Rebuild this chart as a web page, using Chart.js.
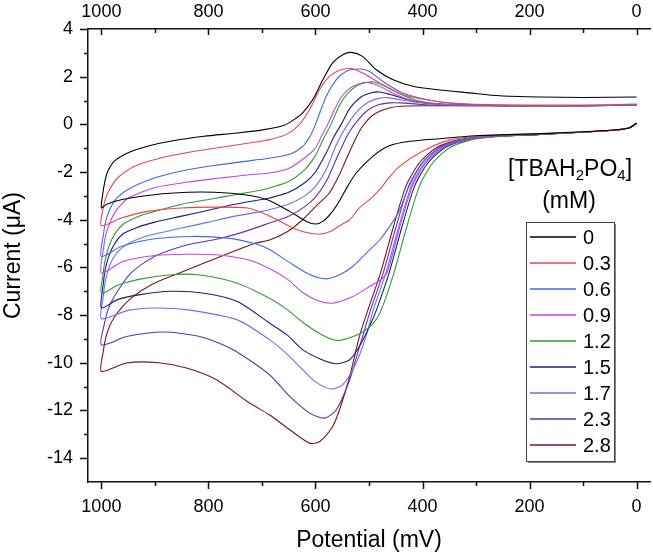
<!DOCTYPE html>
<html>
<head>
<meta charset="utf-8">
<title>CV with TBAH2PO4</title>
<script src="https://cdn.jsdelivr.net/npm/chart.js"></script>
<style>
  body { margin: 0; background: #fff; }
</style>
</head>
<body>
<canvas id="cv" width="653" height="556"></canvas>

<script>
// concentrations of TBAH2PO4 (mM), legend order
const concentrations = ['0', '0.3', '0.6', '0.9', '1.2', '1.5', '1.7', '2.3', '2.8'];

// tick labels
const xTicks = [0, 200, 400, 600, 800, 1000];
const yTicks = [-14, -12, -10, -8, -6, -4, -2, 0, 2, 4];

// each scan: [potential mV, current uA], from 0 mV out to 1000 mV and back
const c0 = [[0,0.06],[14,-0.15],[57,-0.26],[181,-0.39],[294,-0.47],[368,-0.6],[424,-0.71],[462,-0.9],[493,-1.34],[524,-2.04],[540,-2.6],[555,-3.2],[570,-3.7],[585,-4.05],[599,-4.18],[617,-4.07],[648,-3.65],[690,-3.16],[733,-2.95],[789,-2.85],[839,-2.85],[901,-2.95],[963,-3.16],[990,-3.35],[1000,-3.5],
  [998,-3.0],[994,-2.45],[988,-1.97],[976,-1.55],[951,-1.2],[914,-0.92],[864,-0.68],[808,-0.5],[746,-0.36],[696,-0.22],[660,-0.05],[640,0.2],[624,0.48],[605,1.04],[586,1.88],[568,2.58],[549,2.92],[533,3.02],[512,2.85],[487,2.3],[456,1.88],[418,1.6],[375,1.46],[312,1.32],[256,1.2],[181,1.15],[100,1.13],[0,1.15]];
const c03 = [[0,0.05],[14,-0.15],[57,-0.27],[181,-0.4],[294,-0.5],[350,-0.66],[400,-1.13],[443,-1.76],[465,-2.3],[480,-2.74],[499,-3.16],[518,-3.5],[536,-4.0],[555,-4.25],[570,-4.47],[592,-4.6],[624,-4.49],[648,-4.28],[690,-3.8],[727,-3.51],[789,-3.47],[851,-3.51],[914,-3.65],[963,-3.93],[1000,-4.25],
  [996,-3.44],[988,-2.88],[970,-2.25],[938,-1.76],[889,-1.41],[826,-1.13],[764,-0.92],[702,-0.71],[686,-0.64],[655,-0.43],[630,-0.01],[611,0.62],[592,1.46],[574,2.01],[555,2.27],[533,2.34],[512,2.15],[480,1.74],[437,1.25],[375,0.97],[312,0.85],[200,0.8],[100,0.8],[0,0.85]];
const c06 = [[0,0.04],[14,-0.15],[57,-0.27],[181,-0.4],[288,-0.53],[331,-0.67],[369,-0.99],[400,-1.62],[425,-2.6],[445,-3.7],[462,-4.3],[480,-4.85],[505,-5.4],[530,-5.95],[555,-6.31],[580,-6.48],[611,-6.3],[648,-5.8],[686,-5.25],[714,-5.0],[760,-4.78],[830,-4.7],[901,-4.8],[963,-5.12],[1000,-5.54],
  [996,-4.6],[990,-3.9],[975,-3.2],[951,-2.74],[901,-2.25],[839,-1.9],[777,-1.69],[714,-1.5],[686,-1.42],[648,-1.25],[625,-0.95],[610,-0.5],[599,0.06],[580,1.17],[561,1.88],[543,2.22],[518,2.32],[499,2.22],[474,1.8],[437,1.32],[375,0.97],[312,0.83],[200,0.8],[100,0.8],[0,0.82]];
const c09 = [[0,0.04],[14,-0.15],[57,-0.27],[181,-0.4],[282,-0.53],[325,-0.67],[363,-0.99],[394,-1.62],[419,-2.6],[444,-4.42],[466,-6.2],[480,-6.55],[499,-6.8],[530,-7.22],[568,-7.5],[595,-7.4],[624,-7.05],[652,-6.5],[686,-6.05],[723,-5.7],[780,-5.48],[839,-5.45],[900,-5.5],[960,-5.75],[1000,-6.24],
  [996,-5.2],[990,-4.5],[975,-3.7],[950,-3.1],[900,-2.65],[839,-2.42],[777,-2.25],[720,-2.1],[686,-2.04],[650,-1.85],[620,-1.4],[600,-1.0],[590,-0.55],[577,0.0],[565,0.6],[550,1.2],[530,1.6],[505,1.76],[480,1.6],[450,1.25],[420,1.0],[375,0.85],[312,0.8],[200,0.78],[100,0.78],[0,0.8]];
const c12 = [[0,0.04],[14,-0.15],[57,-0.27],[181,-0.42],[269,-0.53],[312,-0.67],[350,-0.99],[381,-1.62],[406,-2.6],[431,-4.42],[453,-6.2],[477,-7.78],[492,-8.35],[515,-8.75],[540,-8.98],[561,-9.06],[590,-8.8],[624,-8.3],[652,-7.78],[686,-7.29],[746,-6.66],[820,-6.31],[870,-6.31],[930,-6.5],[970,-6.75],[1000,-7.1],
  [997,-6.3],[992,-5.6],[980,-4.8],[960,-4.2],[930,-3.85],[900,-3.65],[850,-3.35],[800,-3.15],[750,-2.95],[700,-2.75],[686,-2.67],[650,-2.4],[620,-1.9],[600,-1.3],[585,-0.6],[571,0.0],[555,0.8],[540,1.3],[520,1.65],[500,1.78],[490,1.78],[470,1.6],[440,1.25],[410,1.0],[375,0.87],[312,0.8],[200,0.78],[100,0.78],[0,0.8]];
const c15 = [[0,0.04],[14,-0.15],[57,-0.27],[181,-0.42],[278,-0.53],[321,-0.67],[359,-0.99],[390,-1.62],[415,-2.6],[440,-4.42],[462,-6.2],[486,-7.78],[499,-8.47],[518,-9.32],[536,-9.87],[561,-10.04],[590,-9.85],[624,-9.45],[652,-8.85],[686,-8.33],[746,-7.43],[808,-7.08],[870,-7.0],[930,-7.15],[970,-7.35],[1000,-7.7],
  [997,-6.8],[992,-6.0],[980,-5.2],[960,-4.6],[930,-4.3],[900,-4.1],[850,-3.85],[800,-3.6],[750,-3.35],[700,-3.15],[686,-3.09],[650,-2.85],[620,-2.45],[600,-2.0],[580,-1.2],[565,-0.5],[552,0.0],[535,0.7],[515,1.15],[495,1.33],[480,1.36],[460,1.25],[430,1.05],[400,0.92],[350,0.83],[300,0.8],[200,0.78],[100,0.78],[0,0.8]];
const c17 = [[0,0.04],[14,-0.15],[57,-0.27],[181,-0.42],[284,-0.53],[327,-0.67],[365,-0.99],[396,-1.62],[421,-2.6],[446,-4.42],[468,-6.2],[492,-7.78],[505,-8.85],[524,-10.01],[549,-10.92],[571,-11.1],[600,-10.8],[624,-10.29],[652,-9.66],[686,-9.03],[746,-8.2],[839,-7.78],[901,-7.7],[950,-7.8],[1000,-8.15],
  [997,-7.3],[992,-6.5],[980,-5.7],[960,-5.15],[930,-4.8],[900,-4.6],[850,-4.35],[800,-4.1],[750,-3.85],[700,-3.65],[686,-3.58],[650,-3.35],[620,-3.0],[600,-2.6],[580,-1.9],[560,-0.8],[540,0.0],[520,0.6],[500,0.95],[480,1.1],[465,1.12],[440,1.02],[410,0.92],[370,0.84],[300,0.8],[200,0.78],[100,0.78],[0,0.8]];
const c23 = [[0,0.04],[14,-0.15],[57,-0.27],[181,-0.42],[289,-0.53],[332,-0.67],[370,-0.99],[401,-1.62],[426,-2.6],[451,-4.42],[473,-6.2],[497,-7.78],[508,-8.6],[520,-9.5],[536,-10.71],[561,-11.97],[583,-12.32],[611,-12.11],[648,-11.41],[686,-10.5],[754,-9.45],[816,-8.9],[885,-8.71],[953,-8.9],[1000,-9.25],
  [994,-8.33],[988,-7.8],[976,-7.22],[945,-6.24],[901,-5.54],[839,-5.05],[789,-4.84],[740,-4.55],[686,-4.14],[650,-3.85],[620,-3.45],[600,-3.05],[580,-2.4],[560,-1.4],[540,-0.45],[527,0.0],[505,0.55],[485,0.8],[462,0.9],[440,0.9],[410,0.85],[370,0.8],[300,0.78],[200,0.78],[100,0.78],[0,0.8]];
const c28 = [[0,0.04],[14,-0.15],[57,-0.27],[181,-0.42],[294,-0.53],[337,-0.67],[375,-0.99],[406,-1.62],[431,-2.6],[456,-4.42],[478,-6.2],[502,-7.78],[518,-8.9],[536,-10.57],[555,-11.97],[568,-12.67],[592,-13.3],[611,-13.37],[648,-12.81],[686,-12.18],[723,-11.69],[785,-10.71],[841,-10.22],[897,-9.99],[953,-10.01],[1000,-10.36],
  [997,-9.6],[990,-8.8],[976,-8.1],[945,-7.3],[901,-6.66],[839,-6.1],[777,-5.54],[714,-5.0],[686,-4.85],[652,-4.49],[624,-4.0],[600,-3.45],[574,-2.88],[555,-2.1],[543,-1.48],[525,-0.6],[512,-0.08],[495,0.35],[480,0.55],[462,0.69],[440,0.76],[400,0.78],[300,0.78],[200,0.78],[100,0.78],[0,0.8]];

const scans = [c0, c03, c06, c09, c12, c15, c17, c23, c28];
const colours = ['#000000', '#e8464f', '#4565e6', '#c245e2', '#2f9a34', '#1c1c78', '#6e6cf0', '#6530ad', '#7a1414'];

const FONT = '"Liberation Sans", Arial, sans-serif';

// tick marks: majors + minors, top axis ticks point inwards
const tickMarks = {
  id: 'tickMarks',
  afterDraw(chart) {
    const {ctx, chartArea: a, scales} = chart;
    const x = scales.x, y = scales.y;
    ctx.save();
    ctx.strokeStyle = '#111';
    ctx.lineWidth = 1.5;
    ctx.beginPath();
    xTicks.forEach((v, i) => {
      const px = Math.round(x.getPixelForValue(v)) + 0.5;
      ctx.moveTo(px, a.bottom); ctx.lineTo(px, a.bottom + 7);
      ctx.moveTo(px, a.top); ctx.lineTo(px, a.top + 6);
      if (i < xTicks.length - 1) {
        const pm = Math.round(x.getPixelForValue((v + xTicks[i + 1]) / 2)) + 0.5;
        ctx.moveTo(pm, a.bottom); ctx.lineTo(pm, a.bottom + 4);
        ctx.moveTo(pm, a.top); ctx.lineTo(pm, a.top + 4);
      }
    });
    yTicks.forEach((v, i) => {
      const py = Math.round(y.getPixelForValue(v)) + 0.5;
      ctx.moveTo(a.left - 8, py); ctx.lineTo(a.left, py);
      if (i < yTicks.length - 1) {
        const pm = Math.round(y.getPixelForValue((v + yTicks[i + 1]) / 2)) + 0.5;
        ctx.moveTo(a.left - 4, pm); ctx.lineTo(a.left, pm);
      }
    });
    ctx.stroke();
    ctx.restore();
  }
};

// legend box inside the plot, Origin style
const cvLegend = {
  id: 'cvLegend',
  afterDraw(chart) {
    const ctx = chart.ctx;
    ctx.save();
    ctx.fillStyle = '#000';
    ctx.textBaseline = 'middle';

    // title [TBAH2PO4] with subscripts
    const big = '23px ' + FONT, small = '15px ' + FONT;
    const parts = [['[TBAH', big, 0], ['2', small, 6], ['PO', big, 0], ['4', small, 6], [']', big, 0]];
    let w = 0;
    parts.forEach(p => { ctx.font = p[1]; w += ctx.measureText(p[0]).width; });
    let tx = 570 - w / 2;
    parts.forEach(p => {
      ctx.font = p[1];
      ctx.textAlign = 'left';
      ctx.fillText(p[0], tx, 170 + p[2]);
      tx += ctx.measureText(p[0]).width;
    });
    ctx.font = big;
    ctx.textAlign = 'center';
    ctx.fillText('(mM)', 569, 202);

    // frame with a slight shadow on the right and bottom
    ctx.fillStyle = '#888';
    ctx.fillRect(528, 461, 88, 2);
    ctx.fillRect(614, 224, 2, 239);
    ctx.strokeStyle = '#444';
    ctx.lineWidth = 1;
    ctx.strokeRect(526.5, 222.5, 88, 239);

    ctx.font = '20px ' + FONT;
    ctx.textAlign = 'left';
    chart.data.datasets.forEach((ds, i) => {
      const yy = 237 + i * 26;
      ctx.strokeStyle = colours[i];
      ctx.lineWidth = 1.4;
      ctx.beginPath();
      ctx.moveTo(530, yy); ctx.lineTo(576, yy);
      ctx.stroke();
      ctx.fillStyle = '#000';
      ctx.fillText(ds.label, 583, yy + 1);
    });
    ctx.restore();
  }
};

const plainTick = v => String(v);

new Chart(document.getElementById('cv').getContext('2d'), {
  type: 'line',
  data: {
    datasets: scans.map((s, i) => ({
      label: concentrations[i],
      data: s.map(p => ({x: p[0], y: p[1]})),
      borderColor: colours[i],
      borderWidth: 1.1,
      pointRadius: 0,
      tension: 0.25,
      fill: false
    }))
  },
  options: {
    responsive: false,
    animation: false,
    devicePixelRatio: 1,
    layout: { padding: { left: 0, right: 3, top: 0, bottom: 0 } },
    plugins: { legend: { display: false }, tooltip: { enabled: false } },
    scales: {
      x: {
        type: 'linear', position: 'bottom', reverse: true, min: -25, max: 1025,
        afterBuildTicks: s => { s.ticks = xTicks.map(v => ({value: v})); },
        afterFit: s => { s.height = 74; },
        grid: { display: false, drawTicks: false },
        border: { display: true, color: '#111', width: 1.5 },
        ticks: { color: '#000', padding: 14, maxRotation: 0, callback: plainTick, font: { family: FONT, size: 18 } },
        title: { display: true, text: 'Potential (mV)', color: '#000', padding: { top: 0, bottom: 2 },
                 font: { family: FONT, size: 23 } }
      },
      x2: {
        type: 'linear', position: 'top', reverse: true, min: -25, max: 1025,
        afterBuildTicks: s => { s.ticks = xTicks.map(v => ({value: v})); },
        afterFit: s => { s.height = 29; },
        grid: { display: false, drawTicks: false },
        border: { display: true, color: '#111', width: 1.5 },
        ticks: { color: '#000', padding: 6, maxRotation: 0, callback: plainTick, font: { family: FONT, size: 18 } }
      },
      y: {
        type: 'linear', min: -15, max: 4,
        afterBuildTicks: s => { s.ticks = yTicks.map(v => ({value: v})); },
        afterFit: s => { s.width = 88; },
        grid: { display: false, drawTicks: false },
        border: { display: true, color: '#111', width: 1.5 },
        ticks: { color: '#000', padding: 15, callback: plainTick, font: { family: FONT, size: 18 } },
        title: { display: true, text: 'Current (μA)', color: '#000', padding: { top: 0, bottom: 0 },
                 font: { family: FONT, size: 23 } }
      }
    }
  },
  plugins: [tickMarks, cvLegend]
});
</script>
</body>
</html>
